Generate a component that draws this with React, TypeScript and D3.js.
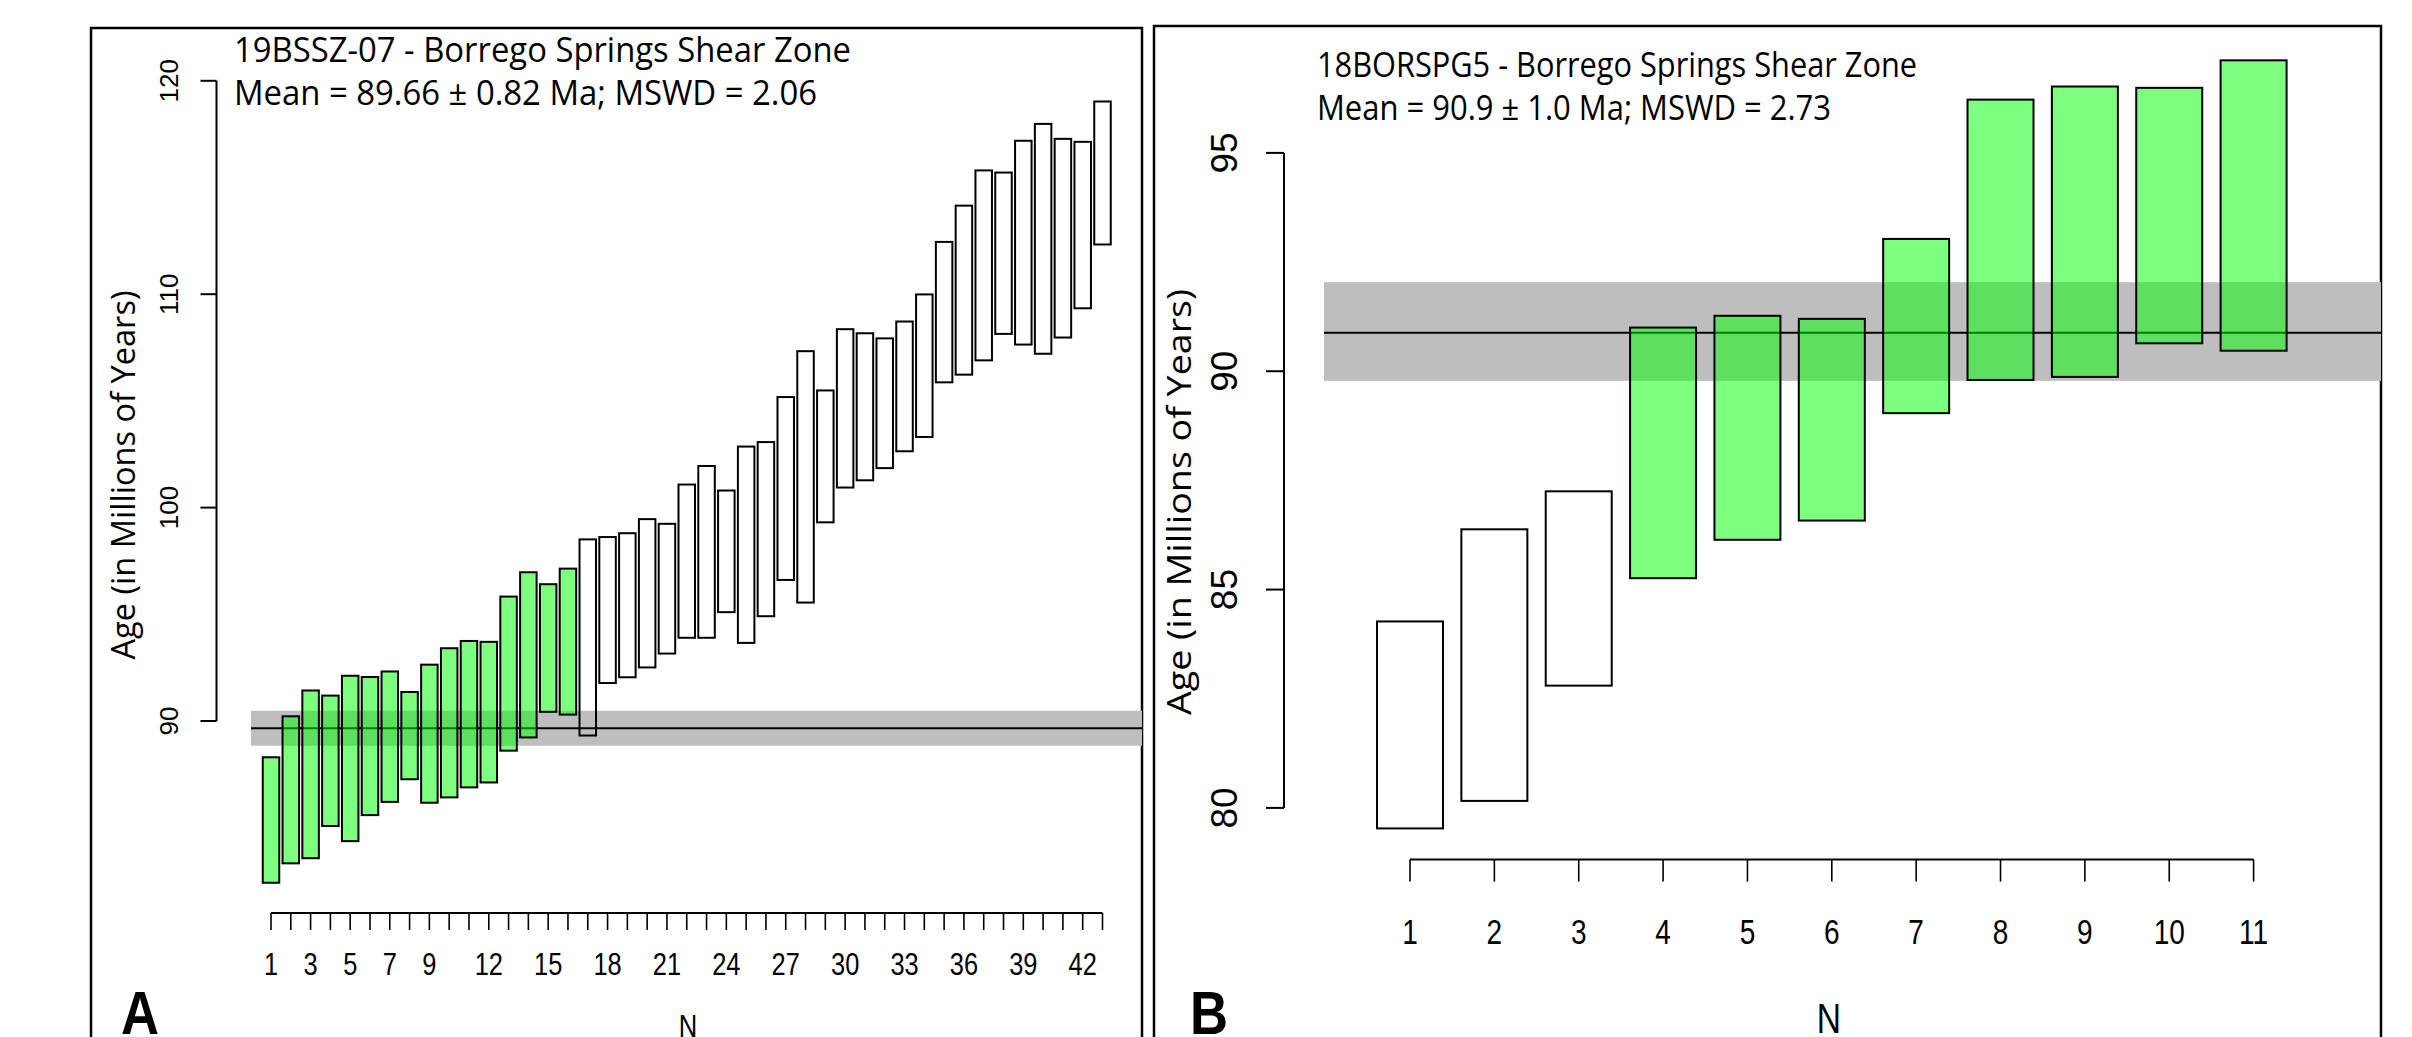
import React from "react";
import * as d3 from "d3";

// ---------- Panel A data (19BSSZ-07) ----------
const aIndex = d3.range(1, 44);
const aLower = [82.42, 83.33, 83.57, 85.08, 84.37, 85.59, 86.21, 87.27, 86.17, 86.42, 86.89, 87.12, 88.61, 89.23, 90.43, 90.30,
  89.32, 91.78, 92.05, 92.51, 93.16, 93.90, 93.90, 95.10, 93.66, 94.91, 96.61, 95.55, 99.31, 100.94, 101.28, 101.85, 102.64,
  103.31, 105.87, 106.23, 106.90, 108.14, 107.64, 107.21, 107.97, 109.34, 112.33];
const aUpper = [88.30, 90.22, 91.43, 91.19, 92.12, 92.06, 92.32, 91.36, 92.64, 93.41, 93.75, 93.71, 95.83, 96.97, 96.41, 97.14,
  98.51, 98.62, 98.80, 99.46, 99.24, 101.08, 101.95, 100.80, 102.86, 103.07, 105.18, 107.33, 105.49, 108.36, 108.17, 107.93, 108.72,
  109.99, 112.45, 114.15, 115.80, 115.70, 117.19, 117.98, 117.28, 117.14, 119.03];
const aAccepted = aIndex.map((n) => n <= 16);
const aYTicks = [90, 100, 110, 120];
const aXLabels = [1, 3, 5, 7, 9, 12, 15, 18, 21, 24, 27, 30, 33, 36, 39, 42];
const aMean = 89.66;
const aBandLo = 88.84;
const aBandHi = 90.48;
const aTitle1 = "19BSSZ-07 - Borrego Springs Shear Zone";
const aTitle2 = "Mean = 89.66 \u00b1 0.82 Ma; MSWD = 2.06";

// ---------- Panel B data (18BORSPG5) ----------
const bIndex = d3.range(1, 12);
const bLower = [79.53, 80.16, 82.80, 85.26, 86.14, 86.58, 89.04, 89.80, 89.87, 90.64, 90.47];
const bUpper = [84.27, 86.38, 87.25, 91.00, 91.27, 91.20, 93.03, 96.22, 96.52, 96.49, 97.12];
const bAccepted = bIndex.map((n) => n >= 4);
const bYTicks = [80, 85, 90, 95];
const bXLabels = bIndex;
const bMean = 90.88;
const bBandLo = 89.78;
const bBandHi = 92.04;
const bTitle1 = "18BORSPG5 - Borrego Springs Shear Zone";
const bTitle2 = "Mean = 90.9 \u00b1 1.0 Ma; MSWD = 2.73";

const yTitle = "Age (in Millions of Years)";
const GREEN = "rgba(0,255,0,0.5)";
const BAND = "#bebebe";
const TICKFONT = "'Liberation Sans', Arial, sans-serif";
const TITLEFONT = "'Open Sans', 'Noto Sans', sans-serif";

function Panel(props: any) {
  const {
    idx, lower, upper, accepted, yTicks, xLabels, mean, bandLo, bandHi, title1, title2,
    xDomain, xRange, yDomain, yRange, barW, axisX, tickLen, yLabelX, yLabelSize,
    xAxisY, xTickLen, xLabelY, xLabelSize, xLabelSx, bandX0, bandX1, border, titleX, t1y, t2y, t1len, t2len, tSize,
    yTitleX, yTitleY, yTitleLen, yTitleSize, letter, letterX, letterY, nX, nY, nSize,
  } = props;
  const x = d3.scaleLinear().domain(xDomain).range(xRange);
  const y = d3.scaleLinear().domain(yDomain).range(yRange);
  return (
    <g>
      <rect x={border[0]} y={border[1]} width={border[2] - border[0]} height={1100} fill="none" stroke="#000" strokeWidth={2.5} />
      {/* band */}
      <rect x={bandX0} y={y(bandHi)} width={bandX1 - bandX0} height={y(bandLo) - y(bandHi)} fill={BAND} />
      <line x1={bandX0} x2={bandX1} y1={y(mean)} y2={y(mean)} stroke="#000" strokeWidth={2} />
      {/* bars */}
      {idx.map((n: number, i: number) => (
        <rect key={n} x={x(n) - barW / 2} y={y(upper[i])} width={barW} height={y(lower[i]) - y(upper[i])}
          fill={accepted[i] ? GREEN : "none"} stroke="#000" strokeWidth={2} />
      ))}
      {/* y axis */}
      <line x1={axisX} x2={axisX} y1={y(yTicks[0])} y2={y(yTicks[yTicks.length - 1])} stroke="#000" strokeWidth={2} />
      {yTicks.map((t: number) => (
        <g key={t}>
          <line x1={axisX - tickLen} x2={axisX} y1={y(t)} y2={y(t)} stroke="#000" strokeWidth={2} />
          <text transform={`translate(${yLabelX},${y(t)}) rotate(-90)`} textAnchor="middle" dominantBaseline="central"
            fontFamily={TICKFONT} fontSize={yLabelSize}>{t}</text>
        </g>
      ))}
      {/* x axis */}
      <line x1={x(idx[0])} x2={x(idx[idx.length - 1])} y1={xAxisY} y2={xAxisY} stroke="#000" strokeWidth={2} />
      {idx.map((n: number) => (
        <line key={n} x1={x(n)} x2={x(n)} y1={xAxisY} y2={xAxisY + xTickLen} stroke="#000" strokeWidth={1.6} />
      ))}
      {xLabels.map((n: number) => (
        <text key={n} transform={`translate(${x(n)},${xLabelY}) scale(${xLabelSx},1)`} textAnchor="middle"
          dominantBaseline="central" fontFamily={TICKFONT} fontSize={xLabelSize}>{n}</text>
      ))}
      {/* titles */}
      <text x={titleX} y={t1y} fontFamily={TITLEFONT} fontSize={tSize} textLength={t1len} lengthAdjust="spacingAndGlyphs">{title1}</text>
      <text x={titleX} y={t2y} fontFamily={TITLEFONT} fontSize={tSize} textLength={t2len} lengthAdjust="spacingAndGlyphs">{title2}</text>
      <text transform={`translate(${yTitleX},${yTitleY}) rotate(-90)`} textAnchor="middle" dominantBaseline="central"
        fontFamily={TITLEFONT} fontSize={yTitleSize} textLength={yTitleLen} lengthAdjust="spacingAndGlyphs">{yTitle}</text>
      <text transform={`translate(${letterX},${letterY}) scale(0.85,1)`} fontFamily={TICKFONT}
        fontWeight="bold" fontSize={62}>{letter}</text>
      <text transform={`translate(${nX},${nY}) scale(0.8,1)`} textAnchor="middle" fontFamily={TICKFONT} fontSize={nSize}>N</text>
    </g>
  );
}

export default function App() {
  return (
    <svg width={2412} height={1037} style={{ position: "absolute", left: 0, top: 0, background: "#fff" }}>
      <rect x={0} y={0} width={2412} height={1037} fill="#fff" />
      <Panel
        idx={aIndex} lower={aLower} upper={aUpper} accepted={aAccepted} yTicks={aYTicks} xLabels={aXLabels}
        mean={aMean} bandLo={aBandLo} bandHi={aBandHi} title1={aTitle1} title2={aTitle2}
        xDomain={[1, 43]} xRange={[271, 1102.5]} yDomain={[90, 120]} yRange={[721, 80.8]} barW={16.5}
        axisX={216.5} tickLen={16} yLabelX={169} yLabelSize={26}
        xAxisY={913} xTickLen={17} xLabelY={964} xLabelSize={31} xLabelSx={0.82} bandX0={251} bandX1={1142}
        border={[91, 28, 1142]} titleX={234} t1y={62} t2y={105} t1len={617} t2len={583} tSize={34}
        yTitleX={122} yTitleY={475} yTitleLen={369} yTitleSize={32}
        letter="A" letterX={121} letterY={1034} nX={688} nY={1037} nSize={32}
      />
      <Panel
        idx={bIndex} lower={bLower} upper={bUpper} accepted={bAccepted} yTicks={bYTicks} xLabels={bXLabels}
        mean={bMean} bandLo={bBandLo} bandHi={bBandHi} title1={bTitle1} title2={bTitle2}
        xDomain={[1, 11]} xRange={[1410, 2253.6]} yDomain={[80, 95]} yRange={[807.9, 152.9]} barW={66}
        axisX={1284} tickLen={18} yLabelX={1224} yLabelSize={37}
        xAxisY={859.6} xTickLen={22} xLabelY={932} xLabelSize={35} xLabelSx={0.8} bandX0={1324} bandX1={2381}
        border={[1154, 26, 2381]} titleX={1317} t1y={77} t2y={120} t1len={600} t2len={514} tSize={35}
        yTitleX={1178} yTitleY={502} yTitleLen={426} yTitleSize={32}
        letter="B" letterX={1190} letterY={1034} nX={1829} nY={1033} nSize={42}
      />
    </svg>
  );
}
